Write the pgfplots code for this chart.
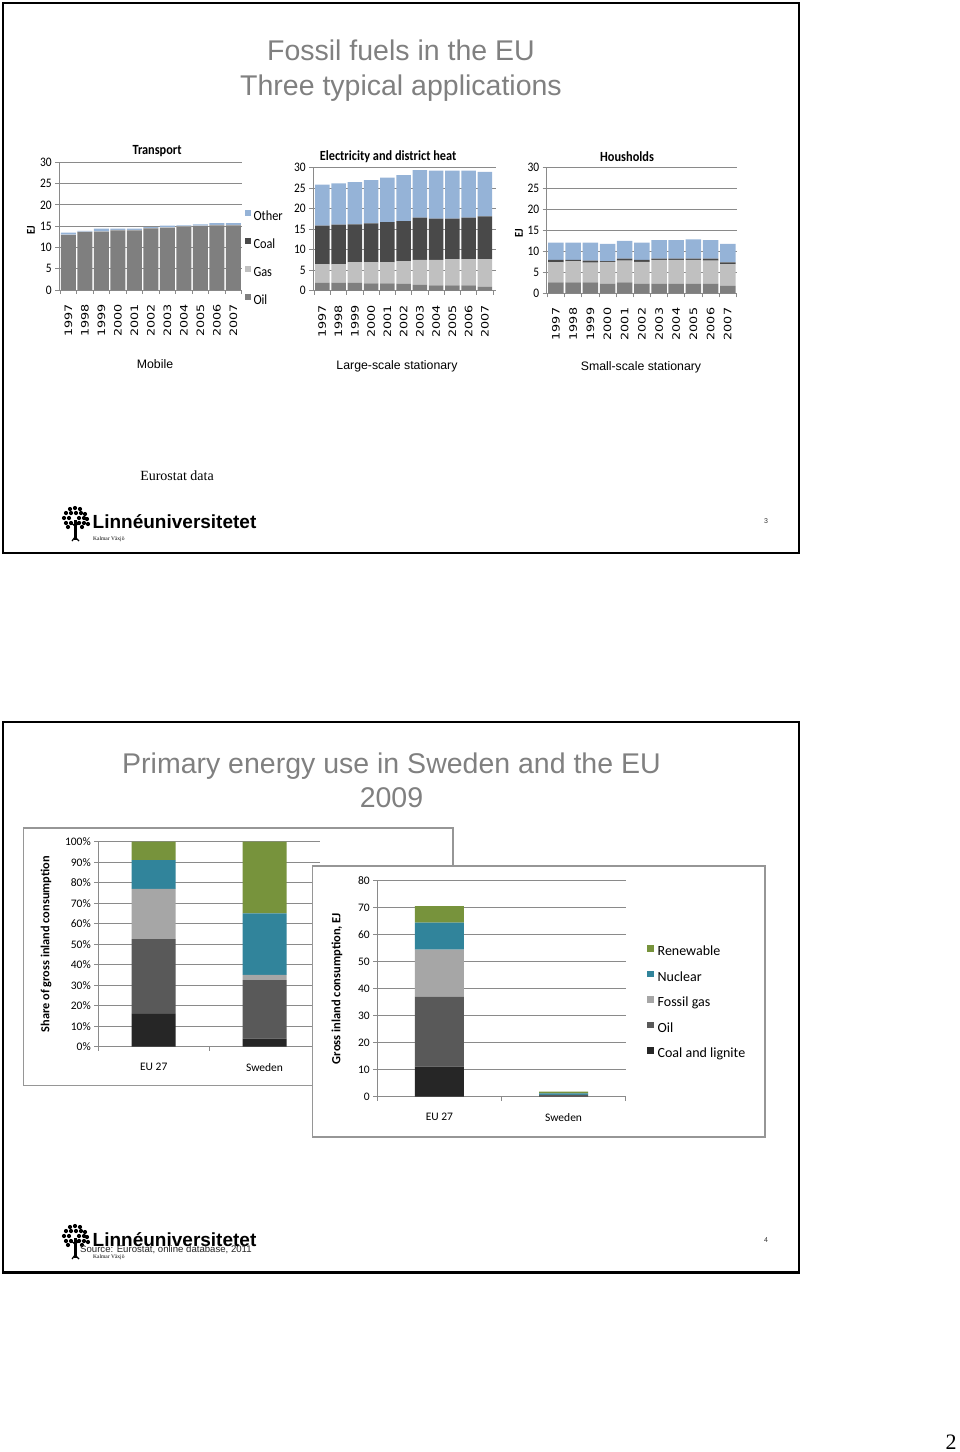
\documentclass[border=0pt]{standalone}
\usepackage{pgfplots}
\pgfplotsset{compat=1.18}
\usepackage{pgfplotstable}
\usepackage{fontspec}
\setmainfont{Carlito}
\newfontfamily\arialf{Liberation Sans}
\newfontfamily\timesf{Liberation Serif}
\newfontfamily\condf[FakeStretch=0.88]{Carlito}
\newfontfamily\yearf[FakeStretch=1.25]{DejaVu Sans}

\definecolor{cOil}{HTML}{7F7F7F}
\definecolor{cGas}{HTML}{C0C0C0}
\definecolor{cCoal}{HTML}{494949}
\definecolor{cOther}{HTML}{95B3D7}
\definecolor{bRen}{HTML}{77933C}
\definecolor{bNuc}{HTML}{31849B}
\definecolor{bGas}{HTML}{A6A6A6}
\definecolor{bOil}{HTML}{595959}
\definecolor{bCoal}{HTML}{262626}
\definecolor{gridc}{HTML}{8A8A8A}
\definecolor{titlegray}{HTML}{808080}

\pgfplotstableread{
x oil gas coal other
0 12.9 0.1 0 0.5
1 13.6 0.1 0 0.2
2 13.7 0.1 0 0.6
3 14.0 0.1 0 0.3
4 14.0 0.1 0 0.3
5 14.5 0.1 0 0.2
6 14.6 0.1 0 0.4
7 14.9 0.1 0 0.2
8 15.0 0.1 0 0.3
9 15.2 0.1 0 0.4
10 15.2 0.1 0 0.4
}\transport

\pgfplotstableread{
x oil gas coal other
0 2.0 4.4 9.5 10.0
1 2.0 4.4 9.7 10.1
2 2.0 4.9 9.3 10.3
3 1.8 5.1 9.5 10.6
4 1.8 5.1 9.8 10.9
5 1.7 5.5 9.8 11.2
6 1.5 6.0 10.3 11.6
7 1.3 6.2 10.1 11.7
8 1.3 6.4 9.9 11.7
9 1.3 6.4 10.1 11.5
10 1.0 6.7 10.4 10.9
}\electricity

\pgfplotstableread{
x oil gas coal other
0 2.6 4.8 0.6 4.1
1 2.6 5.0 0.4 4.1
2 2.6 4.7 0.5 4.3
3 2.3 5.2 0.2 4.1
4 2.6 5.2 0.5 4.2
5 2.3 5.2 0.5 4.1
6 2.3 5.7 0.3 4.4
7 2.3 5.7 0.3 4.4
8 2.3 5.7 0.3 4.6
9 2.3 5.5 0.5 4.4
10 1.8 5.2 0.4 4.4
}\households

\pgfplotsset{
  excel/.style={
    scale only axis,
    axis x line*=bottom, axis y line*=left,
    axis line style={draw=gridc,-, line width=0.8pt},
    tick style={draw=gridc, line width=0.8pt},
    tick align=outside, major tick length=4pt, minor tick length=4pt,
    major x tick style={draw=none},
    ymajorgrids, grid style={draw=gridc, line width=0.8pt},
    xtick pos=bottom, ytick pos=left,
    /pgf/number format/assume math mode=true,
    ybar stacked,
  },
  topchart/.style={
    excel,
    ymin=0, ymax=30, ytick={0,5,...,30},
    xtick={0,...,10},
    xticklabels={1997,1998,1999,2000,2001,2002,2003,2004,2005,2006,2007},
    minor xtick={-0.5,0.5,...,10.5},
    yticklabel style={font=\condf\fontsize{13}{13}\selectfont},
    xticklabel style={rotate=90, anchor=east, xshift=-7pt, font=\yearf\fontsize{10.2}{10.2}\selectfont},
    every axis title/.style={anchor=center, font=\condf\bfseries\fontsize{14}{14}\selectfont},
  },
}

\newcommand\logo[1]{%
\begin{scope}[yshift=#1]
  \fill (74pt,-520pt) rectangle (76.5pt,-540pt);
  \draw[line width=1.2pt] (75pt,-526pt) -- (70pt,-522pt);
  \draw[line width=1.2pt] (75pt,-526pt) -- (81pt,-522pt);
  \draw[line width=1.2pt] (72pt,-541pt) -- (75pt,-537pt) -- (79pt,-541pt);
  \foreach \px/\py in {70/509,75/508,80/509,66/513,71/513,76/513,81/513,85/514,
     64/518,69/518,79/518,84/518,87/519,66/523,71/523,79/523,84/523,88/524,68/527,82/527}
     {\fill (\px pt,-\py pt) circle (2.1pt);}
  \node[anchor=base west, inner sep=0pt, font=\arialf\bfseries\fontsize{19}{19}\selectfont] at (92.5pt,-528pt) {Linnéuniversitetet};
  \node[anchor=base west, inner sep=0pt, font=\timesf\fontsize{5.5}{5.5}\selectfont] at (93pt,-540pt) {Kalmar Växjö};
\end{scope}}

\begin{document}
\begin{tikzpicture}
\path[use as bounding box] (0,0) rectangle (960pt,-1452pt);

% ---------------- slide 1 ----------------
\draw[line width=2.3pt] (3pt,-3pt) rectangle (799pt,-553.3pt);
\node[anchor=base, inner sep=0pt, text=titlegray, font=\arialf\fontsize{28.5}{28.5}\selectfont] at (401pt,-60pt) {Fossil fuels in the EU};
\node[anchor=base, inner sep=0pt, text=titlegray, font=\arialf\fontsize{28.5}{28.5}\selectfont] at (401pt,-95pt) {Three typical applications};

\begin{axis}[topchart, at={(59.3pt,-290pt)}, anchor=south west,
  width=182.4pt, height=127.7pt, xmin=-0.55, xmax=10.5, bar width=15pt,
  title={Transport}, title style={at={(axis description cs:0.536,1.088)}},
  ylabel={EJ}, every axis y label/.style={at={(axis description cs:-0.155,0.47)}, rotate=90, anchor=center, font=\condf\bfseries\fontsize{12}{12}\selectfont},
  reverse legend,
  legend style={at={(axis description cs:1.018,0.63)}, anchor=north west, draw=none, fill=none, inner sep=0pt, row sep=13.6pt,
     font=\condf\fontsize{14}{14}\selectfont, nodes={inner sep=0pt, text height=10pt, text depth=4pt}},
  legend cell align=left,
  legend image code/.code={\fill[#1] (0pt,1.5pt) rectangle (6pt,7.5pt);},
]
\addplot[fill=cOil, draw=none] table[x=x, y=oil] {\transport};
\addplot[fill=cGas, draw=none] table[x=x, y=gas] {\transport};
\addplot[fill=cCoal, draw=none] table[x=x, y=coal] {\transport};
\addplot[fill=cOther, draw=none] table[x=x, y=other] {\transport};
\legend{\,Oil,\,Gas,\,Coal,\,Other}
\end{axis}

\begin{axis}[topchart, at={(313.3pt,-290.7pt)}, anchor=south west,
  width=182.4pt, height=123pt, xmin=-0.55, xmax=10.66, bar width=14.5pt,
  title={Electricity and district heat}, title style={at={(axis description cs:0.41,1.087)}},
]
\addplot[fill=cOil, draw=none] table[x=x, y=oil] {\electricity};
\addplot[fill=cGas, draw=none] table[x=x, y=gas] {\electricity};
\addplot[fill=cCoal, draw=none] table[x=x, y=coal] {\electricity};
\addplot[fill=cOther, draw=none] table[x=x, y=other] {\electricity};
\end{axis}

\begin{axis}[topchart, at={(546.7pt,-293.3pt)}, anchor=south west,
  width=190pt, height=125.6pt, xmin=-0.54, xmax=10.52, bar width=15.5pt,
  title={Housholds}, title style={at={(axis description cs:0.423,1.085)}},
  ylabel={EJ}, every axis y label/.style={at={(axis description cs:-0.146,0.48)}, rotate=90, anchor=center, font=\condf\bfseries\fontsize{12}{12}\selectfont},
]
\addplot[fill=cOil, draw=none] table[x=x, y=oil] {\households};
\addplot[fill=cGas, draw=none] table[x=x, y=gas] {\households};
\addplot[fill=cCoal, draw=none] table[x=x, y=coal] {\households};
\addplot[fill=cOther, draw=none] table[x=x, y=other] {\households};
\end{axis}

\node[anchor=base, inner sep=0pt, font=\arialf\fontsize{12.3}{12.3}\selectfont] at (155pt,-368.4pt) {Mobile};
\node[anchor=base, inner sep=0pt, font=\arialf\fontsize{12.3}{12.3}\selectfont] at (397pt,-369.4pt) {Large-scale stationary};
\node[anchor=base, inner sep=0pt, font=\arialf\fontsize{12.3}{12.3}\selectfont] at (641pt,-370.4pt) {Small-scale stationary};
\node[anchor=base, inner sep=0pt, font=\timesf\fontsize{14}{14}\selectfont] at (177pt,-480.5pt) {Eurostat data};
\logo{0pt}
\node[inner sep=0pt, text=black!80, font=\arialf\fontsize{7}{7}\selectfont] at (766pt,-521.5pt) {3};

% ---------------- slide 2 ----------------
\draw[line width=2.3pt] (3pt,-722pt) rectangle (799pt,-1272.5pt);
\node[anchor=base, inner sep=0pt, text=titlegray, font=\arialf\fontsize{28.5}{28.5}\selectfont] at (391.5pt,-773pt) {Primary energy use in Sweden and the EU};
\node[anchor=base, inner sep=0pt, text=titlegray, font=\arialf\fontsize{28.5}{28.5}\selectfont] at (391.5pt,-807pt) {2009};

\draw[draw=gridc!90, line width=1.2pt, fill=white] (23.3pt,-828pt) rectangle (453pt,-1085.7pt);
\begin{axis}[excel, at={(98.3pt,-1046.7pt)}, anchor=south west,
  width=221.7pt, height=205pt, xmin=-0.5, xmax=1.5, ymin=0, ymax=100,
  ytick={0,10,...,100}, yticklabel={\pgfmathprintnumber{\tick}\%},
  xtick={0,1}, xticklabels={EU 27,Sweden}, minor xtick={-0.5,0.5,1.5},
  bar width=44pt,
  ticklabel style={font=\fontsize{11.5}{11.5}\selectfont},
  xticklabel style={yshift=-9pt},
  ylabel={Share of gross inland consumption},
  every axis y label/.style={at={(axis description cs:-0.236,0.5)}, rotate=90, anchor=center, font=\bfseries\fontsize{12.3}{12.3}\selectfont},
]
\addplot[fill=bCoal, draw=none] coordinates {(0,16) (1,4)};
\addplot[fill=bOil, draw=none] coordinates {(0,36.5) (1,28.5)};
\addplot[fill=bGas, draw=none] coordinates {(0,24.5) (1,2.5)};
\addplot[fill=bNuc, draw=none] coordinates {(0,14) (1,30)};
\addplot[fill=bRen, draw=none] coordinates {(0,9) (1,35)};
\end{axis}

\draw[draw=gridc!90, line width=1.2pt, fill=white] (312.7pt,-866pt) rectangle (765pt,-1137pt);
\begin{axis}[excel, at={(377.3pt,-1096.7pt)}, anchor=south west,
  width=248.4pt, height=216pt, xmin=-0.5, xmax=1.5, ymin=0, ymax=80,
  ytick={0,10,...,80},
  xtick={0,1}, xticklabels={EU 27,Sweden}, minor xtick={-0.5,0.5,1.5},
  bar width=49pt,
  ticklabel style={font=\fontsize{11.5}{11.5}\selectfont},
  xticklabel style={yshift=-9pt},
  ylabel={Gross inland consumption, EJ},
  every axis y label/.style={at={(axis description cs:-0.162,0.501)}, rotate=90, anchor=center, font=\bfseries\fontsize{12.5}{12.5}\selectfont},
  reverse legend,
  legend style={at={(axis description cs:1.086,0.702)}, anchor=north west, draw=none, fill=none, inner sep=0pt, row sep=11pt,
     font=\fontsize{14}{14}\selectfont, nodes={inner sep=0pt, text height=10pt, text depth=4pt}},
  legend cell align=left,
  legend image code/.code={\fill[#1] (0pt,1pt) rectangle (6.5pt,7.5pt);},
]
\addplot[fill=bCoal, draw=none] coordinates {(0,11.1) (1,0.08)};
\addplot[fill=bOil, draw=none] coordinates {(0,26.0) (1,0.54)};
\addplot[fill=bGas, draw=none] coordinates {(0,17.4) (1,0.05)};
\addplot[fill=bNuc, draw=none] coordinates {(0,10.0) (1,0.57)};
\addplot[fill=bRen, draw=none] coordinates {(0,6.1) (1,0.66)};
\legend{\;Coal and lignite,\;Oil,\;Fossil gas,\;Nuclear,\;Renewable}
\end{axis}

\logo{-718pt}
\node[anchor=base west, inner sep=0pt, text=black!85, font=\arialf\fontsize{9.6}{9.6}\selectfont] at (80pt,-1252pt) {Source: Eurostat, online database, 2011};
\node[inner sep=0pt, text=black!80, font=\arialf\fontsize{7}{7}\selectfont] at (766pt,-1240.5pt) {4};

\node[anchor=base, inner sep=0pt, font=\timesf\fontsize{22}{22}\selectfont] at (951pt,-1449pt) {2};
\end{tikzpicture}
\end{document}
